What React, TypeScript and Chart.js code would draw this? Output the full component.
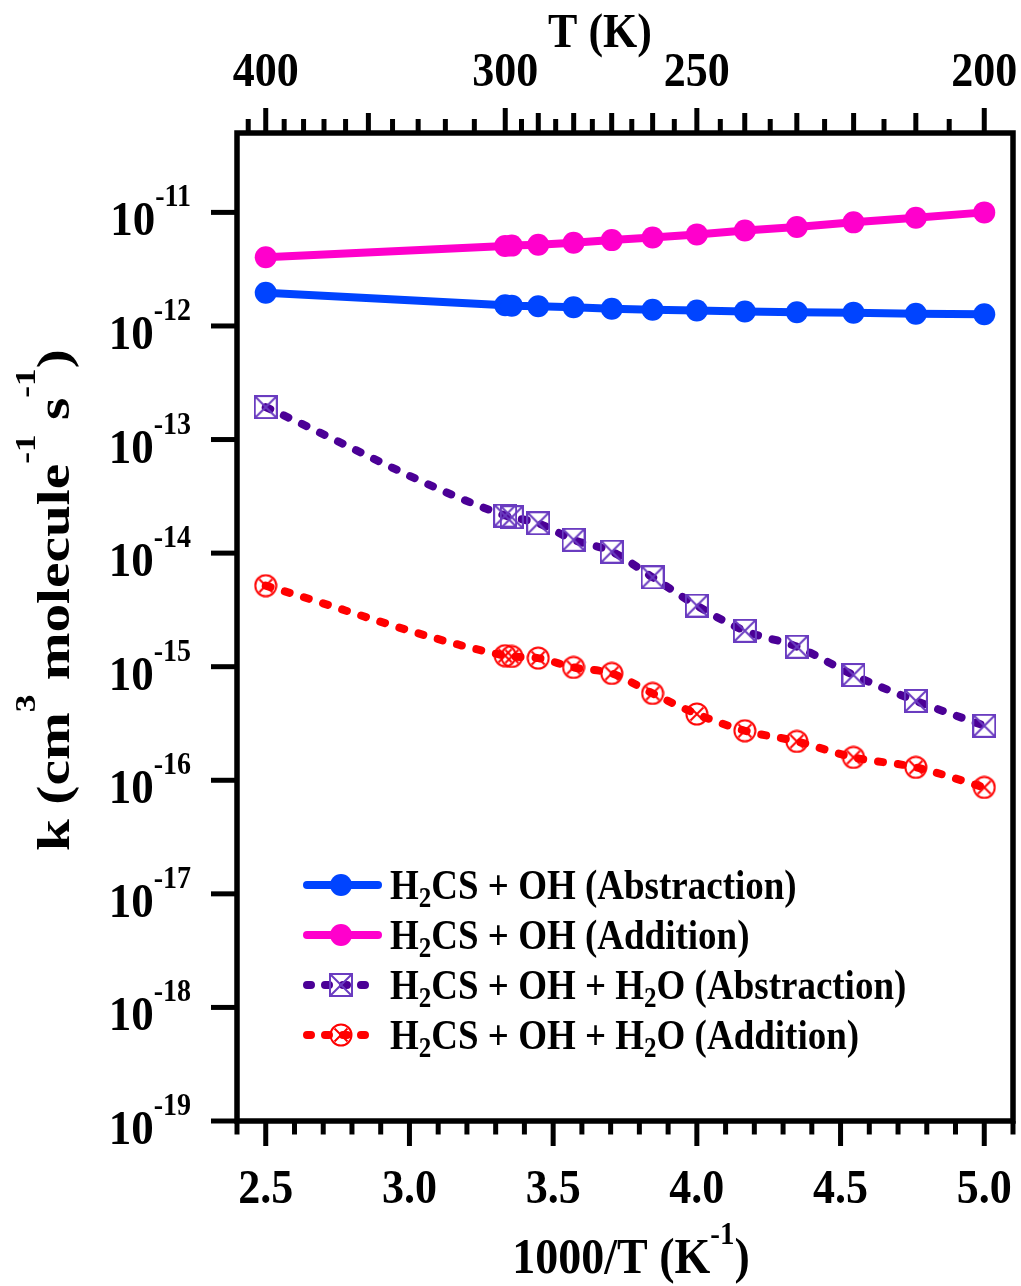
import React, { useEffect, useRef } from "react";
import { Chart, registerables } from "chart.js";

Chart.register(...registerables);

// ---------- data ----------
const temperaturesK = [400, 300, 298, 290, 280, 270, 260, 250, 240, 230, 220, 210, 200];
const inverseT = [2.5, 3.333, 3.356, 3.448, 3.571, 3.704, 3.846, 4.0, 4.167, 4.348, 4.545, 4.762, 5.0];

const abstraction = [1.96e-12, 1.52e-12, 1.51e-12, 1.49e-12, 1.46e-12, 1.42e-12, 1.39e-12, 1.37e-12, 1.34e-12, 1.32e-12, 1.31e-12, 1.28e-12, 1.27e-12];
const addition = [4.03e-12, 5.05e-12, 5.1e-12, 5.19e-12, 5.41e-12, 5.7e-12, 6.02e-12, 6.4e-12, 6.94e-12, 7.43e-12, 8.17e-12, 8.98e-12, 1.0e-11];
const waterAbstraction = [1.93e-13, 2.14e-14, 2.07e-14, 1.83e-14, 1.31e-14, 1.03e-14, 6.12e-15, 3.45e-15, 2.07e-15, 1.5e-15, 8.45e-16, 5.0e-16, 3.02e-16];
const waterAddition = [5.17e-15, 1.25e-15, 1.23e-15, 1.19e-15, 9.86e-16, 8.73e-16, 5.82e-16, 3.83e-16, 2.73e-16, 2.2e-16, 1.59e-16, 1.3e-16, 8.65e-17];

const bottomTickValues = [2.5, 3.0, 3.5, 4.0, 4.5, 5.0];
const bottomTickLabels = ["2.5", "3.0", "3.5", "4.0", "4.5", "5.0"];
const topMajorT = [400, 300, 250, 200];
const topMediumT = [350, 290, 280, 270, 260, 240, 230, 220, 210];
const topMinorT = [410, 390, 380, 370, 360, 340, 330, 320, 310, 295, 285, 275, 265, 255, 245, 235, 225, 215, 205];
const yTickExponents = [-11, -12, -13, -14, -15, -16, -17, -18, -19];

const seriesNames = [
  [["H", 0], ["2", 1], ["CS + OH (Abstraction)", 0]],
  [["H", 0], ["2", 1], ["CS + OH (Addition)", 0]],
  [["H", 0], ["2", 1], ["CS + OH + H", 0], ["2", 1], ["O (Abstraction)", 0]],
  [["H", 0], ["2", 1], ["CS + OH + H", 0], ["2", 1], ["O (Addition)", 0]],
] as [string, number][][];

const BLUE = "#0044ff";
const MAGENTA = "#ff00cc";
const PURPLE = "#4b0096";
const PURPLE_MARK = "#6a3cc0";
const RED = "#ff0000";

const FONT = "'Liberation Serif', 'Times New Roman', Times, serif";

type Part = [string, number, number];

function setFont(ctx: CanvasRenderingContext2D, size: number) {
  ctx.font = `bold ${size}px ${FONT}`;
}

function drawRich(
  ctx: CanvasRenderingContext2D,
  parts: Part[],
  x: number,
  y: number,
  align: "left" | "center" | "right",
  sx = 1,
  sy = 1
) {
  let w = 0;
  for (const [t, s] of parts) {
    setFont(ctx, s);
    w += ctx.measureText(t).width;
  }
  const start = align === "left" ? 0 : align === "center" ? -w / 2 : -w;
  ctx.save();
  ctx.translate(x, y);
  ctx.scale(sx, sy);
  ctx.textAlign = "left";
  ctx.textBaseline = "alphabetic";
  ctx.fillStyle = "#000";
  let cx = start;
  for (const [t, s, dy] of parts) {
    setFont(ctx, s);
    ctx.fillText(t, cx, dy / sy);
    cx += ctx.measureText(t).width;
  }
  ctx.restore();
}

function makeSquareMarker(): HTMLCanvasElement {
  const c = document.createElement("canvas");
  c.width = 24;
  c.height = 24;
  const g = c.getContext("2d")!;
  g.strokeStyle = PURPLE_MARK;
  g.lineWidth = 2;
  g.strokeRect(1, 1, 22, 22);
  g.beginPath();
  g.moveTo(1, 1);
  g.lineTo(23, 23);
  g.moveTo(23, 1);
  g.lineTo(1, 23);
  g.stroke();
  return c;
}

function makeCircleMarker(): HTMLCanvasElement {
  const c = document.createElement("canvas");
  c.width = 24;
  c.height = 24;
  const g = c.getContext("2d")!;
  g.strokeStyle = RED;
  g.lineWidth = 2;
  g.beginPath();
  g.arc(12, 12, 10.5, 0, Math.PI * 2);
  g.stroke();
  const d = 6.5;
  g.beginPath();
  g.moveTo(12 - d, 12 - d);
  g.lineTo(12 + d, 12 + d);
  g.moveTo(12 + d, 12 - d);
  g.lineTo(12 - d, 12 + d);
  g.stroke();
  return c;
}

export default function App() {
  const ref = useRef<HTMLCanvasElement | null>(null);

  useEffect(() => {
    const canvas = ref.current;
    if (!canvas) return;
    const squareMarker = makeSquareMarker();
    const circleMarker = makeCircleMarker();

    const toPoints = (vals: number[]) => vals.map((v, i) => ({ x: inverseT[i], y: v }));

    const decor = {
      id: "decor",
      afterDraw(chart: any) {
        const ctx: CanvasRenderingContext2D = chart.ctx;
        const xs = chart.scales.x;
        const ys = chart.scales.y;
        const { left, right, top, bottom } = chart.chartArea;
        ctx.save();
        ctx.strokeStyle = "#000";
        ctx.lineCap = "butt";
        ctx.lineJoin = "miter";

        // ticks
        ctx.lineWidth = 5;
        for (let i = 24; i <= 51; i++) {
          const v = i / 10;
          const px = xs.getPixelForValue(v);
          const len = i % 5 === 0 ? 25 : 13.5;
          ctx.beginPath();
          ctx.moveTo(px, bottom);
          ctx.lineTo(px, bottom + len);
          ctx.stroke();
        }
        const drawTop = (list: number[], len: number) => {
          for (const T of list) {
            const px = xs.getPixelForValue(1000 / T);
            ctx.beginPath();
            ctx.moveTo(px, top);
            ctx.lineTo(px, top - len);
            ctx.stroke();
          }
        };
        drawTop(topMajorT, 25);
        drawTop(topMediumT, 20);
        drawTop(topMinorT, 14);
        for (const e of yTickExponents) {
          const py = ys.getPixelForValue(Math.pow(10, e));
          ctx.beginPath();
          ctx.moveTo(left, py);
          ctx.lineTo(left - 26, py);
          ctx.stroke();
        }

        // frame
        ctx.lineWidth = 5.5;
        ctx.strokeRect(left, top, right - left, bottom - top);

        // tick labels
        bottomTickValues.forEach((v, i) => {
          drawRich(ctx, [[bottomTickLabels[i], 44, 0]], xs.getPixelForValue(v), 1203, "center", 1, 1.08);
        });
        topMajorT.forEach((T) => {
          drawRich(ctx, [[String(T), 44, 0]], xs.getPixelForValue(1000 / T), 86, "center", 1, 1.08);
        });
        for (const e of yTickExponents) {
          const py = ys.getPixelForValue(Math.pow(10, e));
          drawRich(ctx, [["10", 45, 0], [String(e), 28, -29]], 191, py + 23, "right", 1, 1.1);
        }

        // axis titles
        drawRich(ctx, [["T (K)", 44, 0]], 600, 47, "center", 1, 1.08);
        drawRich(ctx, [["1000/T (K", 46, 0], ["-1", 29, -29], [")", 46, 0]], 631, 1273, "center", 1, 1.08);
        ctx.save();
        ctx.translate(69, 600);
        ctx.rotate(-Math.PI / 2);
        drawRich(
          ctx,
          [
            ["k (cm", 47, 0],
            ["3", 29, -34],
            [" molecule", 47, 0],
            ["-1", 29, -34],
            [" s", 47, 0],
            ["-1", 29, -34],
            [")", 47, 0],
          ],
          0,
          0,
          "center",
          1.22,
          1
        );
        ctx.restore();

        // legend
        const rows = [885, 935, 985, 1035];
        const styles = [
          { color: BLUE, dash: [] as number[], marker: "dot" },
          { color: MAGENTA, dash: [] as number[], marker: "dot" },
          { color: PURPLE, dash: [4, 14], marker: "square" },
          { color: RED, dash: [4, 14], marker: "circle" },
        ];
        rows.forEach((cy, i) => {
          const st = styles[i];
          ctx.save();
          ctx.strokeStyle = st.color;
          ctx.lineWidth = 8;
          ctx.lineCap = "round";
          ctx.setLineDash(st.dash);
          ctx.beginPath();
          ctx.moveTo(307, cy);
          ctx.lineTo(378, cy);
          ctx.stroke();
          ctx.setLineDash([]);
          if (st.marker === "dot") {
            ctx.fillStyle = st.color;
            ctx.beginPath();
            ctx.arc(341, cy, 11, 0, Math.PI * 2);
            ctx.fill();
          } else if (st.marker === "square") {
            ctx.drawImage(squareMarker, 341 - 12, cy - 12);
          } else {
            ctx.drawImage(circleMarker, 341 - 12, cy - 12);
          }
          ctx.restore();
          const parts: Part[] = seriesNames[i].map(([t, sub]) =>
            sub ? ([t, 25, 8] as Part) : ([t, 37, 0] as Part)
          );
          drawRich(ctx, parts, 390, cy + 14, "left", 1, 1.14);
        });

        ctx.restore();
      },
    };

    const chart = new Chart(canvas, {
      type: "line",
      data: {
        datasets: [
          {
            label: "H2CS + OH (Abstraction)",
            data: toPoints(abstraction),
            borderColor: BLUE,
            backgroundColor: BLUE,
            borderWidth: 8,
            pointStyle: "circle",
            pointRadius: 11,
            pointBorderWidth: 0,
            pointBackgroundColor: BLUE,
            tension: 0,
          },
          {
            label: "H2CS + OH (Addition)",
            data: toPoints(addition),
            borderColor: MAGENTA,
            backgroundColor: MAGENTA,
            borderWidth: 8,
            pointStyle: "circle",
            pointRadius: 11,
            pointBorderWidth: 0,
            pointBackgroundColor: MAGENTA,
            tension: 0,
          },
          {
            label: "H2CS + OH + H2O (Abstraction)",
            data: toPoints(waterAbstraction),
            borderColor: PURPLE,
            backgroundColor: "transparent",
            borderWidth: 8,
            borderDash: [5, 15],
            borderCapStyle: "round",
            pointStyle: squareMarker as any,
            pointRadius: 12,
            cubicInterpolationMode: "monotone",
          },
          {
            label: "H2CS + OH + H2O (Addition)",
            data: toPoints(waterAddition),
            borderColor: RED,
            backgroundColor: "transparent",
            borderWidth: 8,
            borderDash: [5, 15],
            borderCapStyle: "round",
            pointStyle: circleMarker as any,
            pointRadius: 12,
            cubicInterpolationMode: "monotone",
          },
        ] as any,
      },
      options: {
        animation: false,
        responsive: false,
        maintainAspectRatio: false,
        layout: { autoPadding: false, padding: { left: 237, right: 8, top: 133, bottom: 165 } },
        plugins: { legend: { display: false }, tooltip: { enabled: false } },
        scales: {
          x: {
            type: "linear",
            min: 2.4,
            max: 5.1,
            ticks: { display: false },
            grid: { display: false },
            border: { display: false },
            afterFit: (s: any) => {
              s.height = 0;
            },
          },
          y: {
            type: "logarithmic",
            min: 1e-19,
            max: 5e-11,
            ticks: { display: false },
            grid: { display: false },
            border: { display: false },
            afterFit: (s: any) => {
              s.width = 0;
            },
          },
        },
      } as any,
      plugins: [decor],
    });

    return () => chart.destroy();
  }, []);

  return (
    <div style={{ position: "absolute", left: 0, top: 0, width: 1021, height: 1286, background: "#fff" }}>
      <canvas ref={ref} width={1021} height={1286} style={{ display: "block", width: 1021, height: 1286 }} />
    </div>
  );
}
